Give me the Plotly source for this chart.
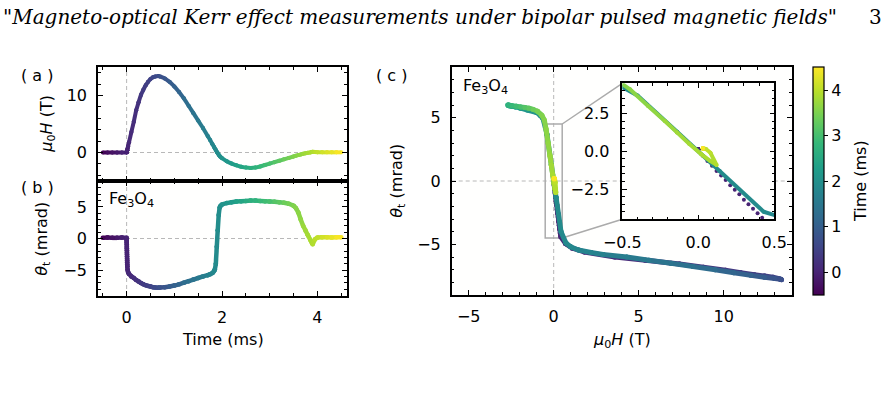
import plotly.graph_objects as go
from plotly.colors import sample_colorscale

W, HP = 896, 397

# ---------------- data ----------------
time_ms = [-0.5, -0.4, -0.3, -0.2, -0.1, 0.0,
           0.001, 0.002, 0.003, 0.004, 0.005, 0.006, 0.007, 0.008, 0.009, 0.010, 0.011, 0.012, 0.013, 0.014,
           0.02, 0.03, 0.05, 0.1, 0.15, 0.2, 0.25, 0.3, 0.35, 0.4, 0.45, 0.5, 0.55, 0.6, 0.66, 0.7,
           0.8, 0.9, 1.0, 1.1, 1.2, 1.3, 1.4, 1.5, 1.6, 1.7, 1.75, 1.8, 1.83, 1.85, 1.87, 1.89, 1.91, 1.93, 1.95, 1.97, 2.0,
           2.1, 2.2, 2.3, 2.4, 2.5, 2.6, 2.7, 2.8, 2.9, 3.0, 3.1, 3.2, 3.3, 3.4, 3.5, 3.55, 3.6, 3.65, 3.7, 3.75,
           3.8, 3.85, 3.88, 3.9, 3.95, 4.0, 4.1, 4.2, 4.3, 4.4, 4.5]

field_T = [0, 0, 0, 0, 0, 0,
           0.03, 0.06, 0.09, 0.12, 0.15, 0.18, 0.21, 0.24, 0.27, 0.30, 0.33, 0.36, 0.39, 0.42,
           0.7, 1.1, 1.8, 3.6, 5.4, 7.4, 8.8, 10.1, 11.0, 11.8, 12.4, 12.9, 13.2, 13.35, 13.4, 13.35,
           13.0, 12.4, 11.6, 10.6, 9.5, 8.2, 6.9, 5.6, 4.3, 2.9, 2.2, 1.45, 1.0, 0.72, 0.43, 0.14, -0.14, -0.40, -0.62, -0.8, -1.0,
           -1.55, -1.95, -2.25, -2.5, -2.65, -2.7, -2.65, -2.45, -2.2, -1.95, -1.7, -1.45, -1.2, -0.95, -0.7, -0.55, -0.45, -0.33, -0.22, -0.14,
           -0.06, 0.02, 0.08, 0.12, 0.08, 0.05, 0.03, 0.03, 0.03, 0.03, 0.03]

kerr_mrad = [0.1, 0.15, 0.1, 0.1, 0.15, 0.1,
             -0.3, -0.65, -0.95, -1.3, -1.6, -1.9, -2.25, -2.55, -2.85, -3.2, -3.5, -3.8, -4.1, -4.4,
             -4.95, -5.3, -5.6, -6.0, -6.25, -6.55, -6.8, -7.05, -7.25, -7.4, -7.5, -7.6, -7.7, -7.75, -7.8, -7.75,
             -7.7, -7.6, -7.45, -7.25, -7.0, -6.75, -6.5, -6.25, -6.0, -5.8, -5.65, -5.45, -5.2, -4.9, -4.0, -1.3, 1.3, 3.7, 4.9, 5.2, 5.4,
             5.6, 5.75, 5.85, 5.9, 5.95, 6.0, 6.0, 5.95, 5.9, 5.85, 5.8, 5.75, 5.65, 5.5, 5.2, 4.8, 4.1, 3.0, 2.0, 1.25,
             0.5, -0.2, -0.65, -0.9, -0.1, 0.15, 0.2, 0.2, 0.15, 0.2, 0.2]

colorbar_ticks = [0, 1, 2, 3, 4]
CMIN, CMAX = -0.5, 4.5

# ---------------- helpers ----------------
def px_x(p):
    return p / W

def px_y(p):
    return 1 - p / HP

FONT = "DejaVu Sans"
FS = 16
fig = go.Figure()

def add_colored(xs, ys, xa, ya, width, msize, skip_rise=False):
    nb = 120
    groups = {}
    for i in range(len(xs) - 1):
        if skip_rise and time_ms[i] >= 0 and time_ms[i + 1] <= 0.02:
            continue
        tm = 0.5 * (time_ms[i] + time_ms[i + 1])
        b = int(round((tm - CMIN) / (CMAX - CMIN) * (nb - 1)))
        b = max(0, min(nb - 1, b))
        g = groups.setdefault(b, ([], []))
        g[0].extend([xs[i], xs[i + 1], None])
        g[1].extend([ys[i], ys[i + 1], None])
    for b in sorted(groups):
        c = sample_colorscale("Viridis", [b / (nb - 1)])[0]
        fig.add_trace(go.Scatter(x=groups[b][0], y=groups[b][1], mode="lines+markers",
                                 line=dict(color=c, width=width),
                                 marker=dict(color=c, size=msize),
                                 xaxis=xa, yaxis=ya, showlegend=False, hoverinfo="skip"))

# panel (a): field vs time
add_colored(time_ms, field_T, "x", "y", 4, 4)
# panel (b): Kerr vs time
add_colored(time_ms, kerr_mrad, "x2", "y2", 4.5, 4.5)
# panel (c): Kerr vs field
add_colored(field_T, kerr_mrad, "x3", "y3", 5, 5)
# inset: purple rise points shown as dots
rise = [i for i, t in enumerate(time_ms) if 0 <= t <= 0.02]
fig.add_trace(go.Scatter(x=[field_T[i] for i in rise], y=[kerr_mrad[i] for i in rise], mode="markers",
                         marker=dict(color=sample_colorscale("Viridis", [0.1])[0], size=4),
                         xaxis="x4", yaxis="y4", showlegend=False, hoverinfo="skip"))
add_colored(field_T, kerr_mrad, "x4", "y4", 4, 4, skip_rise=True)

# colorbar
fig.add_trace(go.Scatter(x=[None], y=[None], mode="markers", xaxis="x", yaxis="y", showlegend=False,
                         marker=dict(color=[0], colorscale="Viridis", cmin=CMIN, cmax=CMAX, showscale=True,
                                     colorbar=dict(x=px_x(813.3), xanchor="left", xpad=0, ypad=0,
                                                   y=px_y(181.2), yanchor="middle", len=227.7 / HP,
                                                   thickness=10.7, outlinewidth=1.2, outlinecolor="black",
                                                   tickvals=colorbar_ticks, ticks="outside", ticklen=4,
                                                   tickwidth=1, tickcolor="black",
                                                   tickfont=dict(family=FONT, size=FS, color="black")))))

# ---------------- axes ----------------
def axis(domain, rng, dtick, mdtick, labels=True, fmt=None, tick0=0, standoff=6):
    d = dict(domain=domain, range=rng, dtick=dtick, tick0=tick0, showline=True, linecolor="black",
             linewidth=1.5, mirror="allticks", ticks="inside", ticklen=5, tickwidth=1.2, tickcolor="black",
             showgrid=False, zeroline=False, showticklabels=labels, ticklabelstandoff=standoff,
             automargin=False,
             tickfont=dict(family=FONT, size=FS, color="black"),
             minor=dict(ticks="inside", ticklen=3, tickwidth=1, tickcolor="black", dtick=mdtick,
                        tick0=tick0, showgrid=False))
    if fmt:
        d["tickformat"] = fmt
    return d

xa_dom = [px_x(98), px_x(347)]
xc_dom = [px_x(451.7), px_x(791.7)]
xi_dom = [px_x(622.3), px_x(774.3)]
ya_dom = [px_y(181), px_y(67)]
yb_dom = [px_y(296), px_y(181)]
yc_dom = [px_y(295), px_y(67)]
yi_dom = [px_y(219.3), px_y(83.3)]

xr_ab = [-0.6, 4.62]
xr_c, yr_c = [-6, 14], [-9, 9]
xr_i, yr_i = [-0.5, 0.5], [-4.5, 4.5]

fig.update_layout(
    width=W, height=HP, margin=dict(l=0, r=0, t=0, b=0, pad=0, autoexpand=False),
    paper_bgcolor="white", plot_bgcolor="#fffffe", showlegend=False,
    xaxis=dict(axis(xa_dom, xr_ab, 2, 0.5, labels=False), anchor="y"),
    yaxis=dict(axis(ya_dom, [-5, 15], 10, 2), anchor="x"),
    xaxis2=dict(axis(xa_dom, xr_ab, 2, 0.5), anchor="y2"),
    yaxis2=dict(axis(yb_dom, [-9.1, 9.1], 5, 1), anchor="x2"),
    xaxis3=dict(axis(xc_dom, xr_c, 5, 1), anchor="y3"),
    yaxis3=dict(axis(yc_dom, yr_c, 5, 1), anchor="x3"),
    xaxis4=dict(axis(xi_dom, xr_i, 0.5, 0.1, fmt=".1f", standoff=8), anchor="y4"),
    yaxis4=dict(axis(yi_dom, yr_i, 2.5, 0.5, fmt=".1f", standoff=8), anchor="x4"),
)

# ---------------- shapes ----------------
dash = dict(color="#b8b8b8", width=1, dash="4px,3px")
shapes = []
for xa, ya in [("x", "y"), ("x2", "y2"), ("x3", "y3"), ("x4", "y4")]:
    shapes.append(dict(type="line", xref=xa, yref=ya + " domain", x0=0, x1=0, y0=0, y1=1, line=dash, layer="below"))
    shapes.append(dict(type="line", xref=xa + " domain", yref=ya, x0=0, x1=1, y0=0, y1=0, line=dash, layer="below"))

# zoom indicator rectangle and connectors (in panel c data coordinates)
def dom_to_data(frac, dom, rng):
    return rng[0] + (frac - dom[0]) / (dom[1] - dom[0]) * (rng[1] - rng[0])

ix0 = dom_to_data(xi_dom[0], xc_dom, xr_c)
iy0 = dom_to_data(yi_dom[0], yc_dom, yr_c)
iy1 = dom_to_data(yi_dom[1], yc_dom, yr_c)
grey = dict(color="#ababab", width=1.5)
shapes.append(dict(type="rect", xref="x3", yref="y3", x0=xr_i[0], x1=xr_i[1], y0=yr_i[0], y1=yr_i[1],
                   line=grey, layer="below"))
shapes.append(dict(type="line", xref="x3", yref="y3", x0=xr_i[1], y0=yr_i[1], x1=ix0, y1=iy1, line=grey, layer="below"))
shapes.append(dict(type="line", xref="x3", yref="y3", x0=xr_i[1], y0=yr_i[0], x1=ix0, y1=iy0, line=grey, layer="below"))
fig.update_layout(shapes=shapes)

# ---------------- text ----------------
def ann(text, x, y, size=FS, xanchor="center", angle=0, family=FONT):
    return dict(text=text, x=px_x(x), y=px_y(y), xref="paper", yref="paper", showarrow=False,
                xanchor=xanchor, yanchor="middle", textangle=angle,
                font=dict(family=family, size=size, color="black"))

mu0H = "<i>μ</i><sub>0</sub><i>H</i> (T)"
theta = "<i>θ</i><sub>t</sub> (mrad)"
fe = "Fe<sub>3</sub>O<sub>4</sub>"
annotations = [
    ann("<i>\"Magneto-optical Kerr effect measurements under bipolar pulsed magnetic fields\"</i>", 1, 17,
        size=20, xanchor="left", family="DejaVu Serif"),
    ann("3", 875, 17, size=20, family="DejaVu Serif"),
    ann("( a )", 37, 75),
    ann("( b )", 37.5, 188),
    ann("( c )", 391.7, 75),
    ann(fe, 107, 199, xanchor="left"),
    ann(fe, 461, 86, xanchor="left"),
    ann(mu0H, 46.7, 124, angle=-90),
    ann(theta, 41.7, 239, angle=-90),
    ann("Time (ms)", 222.5, 339),
    ann(theta, 396.7, 181, angle=-90),
    ann(mu0H, 621.7, 340),
    ann("Time (ms)", 860, 181, angle=-90),
]
fig.update_layout(annotations=annotations)

fig.write_html("out.html")
